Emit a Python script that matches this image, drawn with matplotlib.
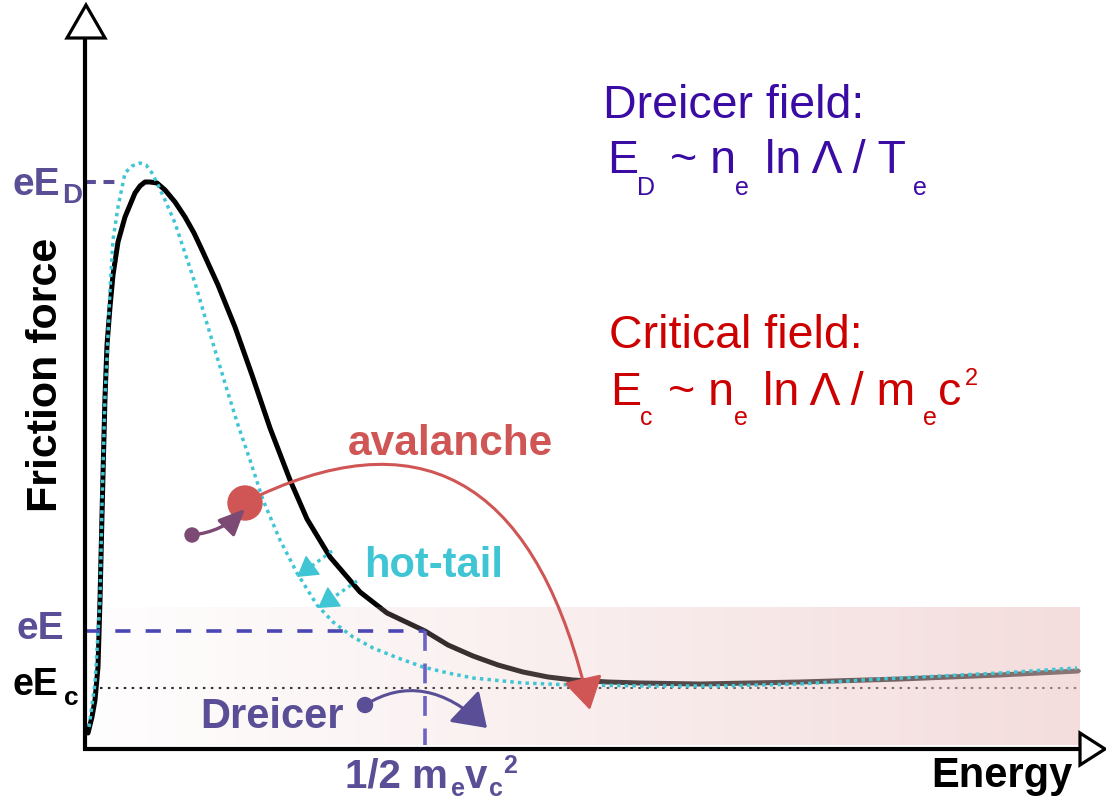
import numpy as np
import matplotlib
matplotlib.use("Agg")
import matplotlib.pyplot as plt
from matplotlib.patches import FancyArrowPatch, Circle, Polygon, ArrowStyle
from matplotlib.path import Path

plt.rcParams['font.family'] = ['Liberation Sans', 'DejaVu Sans']

# ---------------- data (energy / friction force, arbitrary units) ----------------
energy_black = [0, 4, 7, 10, 12, 14, 15.5, 17, 19, 22, 25, 30, 37, 47, 52, 57, 62, 69, 77, 87,
                97, 106, 114, 130, 147, 164, 182, 202, 219, 242, 272, 299, 337, 360, 385, 410, 435,
                460, 485, 520, 552, 612, 712, 812, 912, 990]
force_black = [12, 28, 45, 78, 145, 230, 290, 348, 400, 438, 470, 503, 528, 552, 559, 563, 563, 562, 555, 543,
               528, 512, 495, 460, 418, 370, 317, 265, 226, 188, 153, 132, 114, 100, 89, 80, 73,
               68, 65, 63, 62, 61, 63, 66, 70, 74]

energy_cyan = [1, 4, 7, 10, 12, 14, 17, 19, 22, 25, 30, 37, 44, 52, 58, 64, 70, 77, 87, 97,
               107, 117, 130, 140, 150, 162, 175, 192, 209, 229, 245, 265, 285, 310, 335, 360, 385,
               435, 485, 562, 632, 712, 792, 912, 989]
force_cyan = [18, 40, 62, 112, 145, 240, 348, 388, 455, 505, 538, 572, 579, 582, 580, 572, 560, 545, 522, 492,
              462, 428, 385, 352, 320, 285, 245, 205, 172, 140, 123, 108, 97, 87, 78, 72, 67,
              62, 60, 59, 59, 61, 66, 72, 77]

level_ED = 563        # eE_D
level_E = 114         # eE
level_Ec = 57         # eE_c
energy_crit = 337     # 1/2 m_e v_c^2
shade_top = 138       # top of shaded band
energy_max = 992
force_max = 707

# ---------------- colours ----------------
C_PURPLE = '#5a4f97'
C_DASH = '#4a46b4'
C_VDASH = '#6c63c4'
C_CYAN = '#3fc5d3'
C_RED = '#d05555'
C_MAUVE = '#7c4a74'
C_DREICER_F = '#3b0ca3'
C_CRIT_F = '#cc0000'

W, H = 1106, 802
fig = plt.figure(figsize=(W / 100, H / 100), dpi=100)
fig.patch.set_facecolor('white')

# main data axes: origin at pixel (88,745), top-right at (1080,38)
ax = fig.add_axes([88 / W, (H - 745) / H, 992 / W, 707 / H])
ax.set_xlim(0, energy_max)
ax.set_ylim(0, force_max)
ax.axis('off')

ax.plot(energy_black, force_black, color='black', lw=3.6, zorder=1, clip_on=False,
        solid_capstyle='round', solid_joinstyle='round')
ax.plot([12, energy_max], [level_Ec, level_Ec], color='#222222', lw=1.5,
        linestyle=(0, (1.2, 2.6)), zorder=1.5, clip_on=False)

# gradient shading
nx = 400
alpha = np.linspace(0.02, 0.6, nx)
img = np.zeros((2, nx, 4))
img[..., 0] = 0.93
img[..., 1] = 0.78
img[..., 2] = 0.78
img[..., 3] = alpha[None, :]
ax.imshow(img, extent=(0, energy_max, 0, shade_top), aspect='auto', zorder=2,
          interpolation='bilinear', origin='lower')

ax.plot(energy_cyan, force_cyan, color=C_CYAN, lw=2.5, linestyle=(0, (1, 1.2)),
        dash_capstyle='butt', zorder=3, clip_on=False)

ax.plot([-3, 29], [level_ED, level_ED], color=C_PURPLE, lw=2.9,
        linestyle=(0, (2.7, 1.9)), zorder=3, clip_on=False)
ax.plot([-3, energy_crit], [level_E, level_E], color=C_DASH, lw=2.6,
        linestyle=(0, (4.2, 4.2)), zorder=3, clip_on=False)
ax.plot([energy_crit, energy_crit], [level_E, 0], color=C_VDASH, lw=2.6,
        linestyle=(0, (5.5, 3.5)), zorder=3, clip_on=False)

# ---------------- overlay in pixel coordinates ----------------
ov = fig.add_axes([0, 0, 1, 1], zorder=5)
ov.set_xlim(0, W)
ov.set_ylim(H, 0)
ov.axis('off')

# axes with open arrow heads
ov.plot([85, 85], [750, 38], color='black', lw=3.0, solid_capstyle='butt')
ov.add_patch(Polygon([(67, 38), (86, 5), (105, 38)], closed=True, facecolor='white',
                     edgecolor='black', lw=2.3))
ov.plot([83, 1080], [749, 749], color='black', lw=3.0, solid_capstyle='butt')
ov.add_patch(Polygon([(1080, 733), (1105, 749), (1080, 765)], closed=True, facecolor='white',
                     edgecolor='black', lw=2.3))

# avalanche arrow
p = Path([(260, 495), (515, 378), (590, 710)], [Path.MOVETO, Path.CURVE3, Path.CURVE3])
ov.add_patch(FancyArrowPatch(path=p, arrowstyle=ArrowStyle('-|>', head_length=1.0, head_width=0.6),
                             mutation_scale=20, color=C_RED, lw=2.2))
ov.add_patch(Circle((245, 503), 17, color=C_RED, zorder=4))

# small mauve arrow
p = Path([(192, 535), (222, 532), (245, 509)], [Path.MOVETO, Path.CURVE3, Path.CURVE3])
ov.add_patch(FancyArrowPatch(path=p, arrowstyle=ArrowStyle('-|>', head_length=1.0, head_width=0.45),
                             mutation_scale=16, color=C_MAUVE, lw=2.4, zorder=5))
ov.add_patch(Circle((192, 535), 7, color=C_MAUVE, zorder=5))

# Dreicer arrow
p = Path([(365, 705), (424, 668), (487, 728)], [Path.MOVETO, Path.CURVE3, Path.CURVE3])
ov.add_patch(FancyArrowPatch(path=p, arrowstyle=ArrowStyle('-|>', head_length=1.0, head_width=0.68),
                             mutation_scale=20, color=C_PURPLE, lw=2.2))
ov.add_patch(Circle((365, 705), 7.5, color=C_PURPLE))

# hot-tail arrows
for tail, tip in [((332, 551), (297, 577)), ((357, 581), (318, 608))]:
    tail = np.array(tail, float)
    tip = np.array(tip, float)
    d = (tip - tail) / np.linalg.norm(tip - tail)
    ov.plot([tail[0], tip[0] - 10 * d[0]], [tail[1], tip[1] - 10 * d[1]], color=C_CYAN, lw=2.4,
            linestyle=(0, (1, 1.2)), dash_capstyle='butt')
    base = tip - 18 * d
    ov.add_patch(FancyArrowPatch(posA=tuple(base), posB=tuple(tip), shrinkA=0, shrinkB=0,
                                 arrowstyle=ArrowStyle('-|>', head_length=1.0, head_width=0.6),
                                 mutation_scale=13, color=C_CYAN, lw=1.0))

# ---------------- texts ----------------
def pieces(items, color, weight='normal'):
    for s, x, y, size in items:
        ov.text(x, y, s, fontsize=size, color=color, fontweight=weight,
                ha='left', va='baseline')

# right side formulas
pieces([("Dreicer field:", 603, 118, 33.5),
        ("E", 607, 173, 33.5), ("D", 637, 195, 18),
        ("~ n", 670, 173, 33.5), ("e", 735, 195, 18),
        ("ln Λ / T", 765, 173, 33.5), ("e", 913, 195, 18)], C_DREICER_F)
pieces([("Critical field:", 609, 348, 33.5),
        ("E", 610, 405, 33.5), ("c", 640, 425, 18),
        ("~ n", 668, 405, 33.5), ("e", 734, 425, 18),
        ("ln Λ / m", 763, 405, 33.5), ("e", 923, 425, 18),
        ("c", 938, 405, 33.5), ("2", 965, 385, 17)], C_CRIT_F)

# left labels
pieces([("eE", 12, 195, 28), ("D", 62, 203, 20)], C_PURPLE, 'bold')
pieces([("eE", 17, 639, 28)], C_PURPLE, 'bold')
pieces([("eE", 12, 695, 27), ("c", 64, 705, 19)], 'black', 'bold')
pieces([("1/2 m", 345, 788, 29), ("e", 451, 796, 18), ("v", 465, 788, 29),
        ("c", 489, 796, 18), ("2", 503, 773, 18)], C_PURPLE, 'bold')

ov.text(46, 375, "Friction force", rotation=90, fontsize=31, fontweight='bold',
        ha='center', va='center', color='black')
ov.text(931, 787, "Energy", fontsize=30, fontweight='bold', ha='left', va='baseline', color='black')
ov.text(348, 455, "avalanche", fontsize=30.5, fontweight='bold', ha='left', va='baseline', color=C_RED)
ov.text(364, 577, "hot-tail", fontsize=30, fontweight='bold', ha='left', va='baseline', color=C_CYAN)
ov.text(200, 728, "Dreicer", fontsize=30, fontweight='bold', ha='left', va='baseline', color=C_PURPLE)

fig.savefig("out.png", dpi=100, facecolor='white')
